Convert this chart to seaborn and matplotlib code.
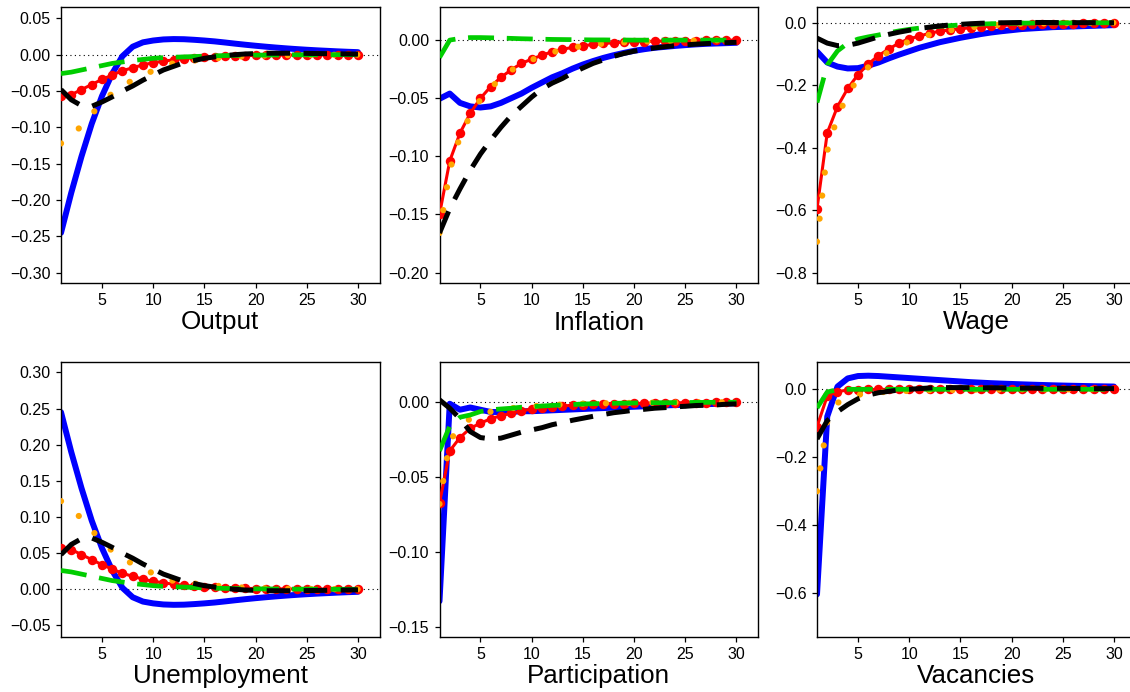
import matplotlib
matplotlib.use("Agg")
import matplotlib.pyplot as plt
import seaborn as sns
import numpy as np
from matplotlib.ticker import FuncFormatter

steps = list(range(1, 31))

# ---- Output
output_blue = [-0.245, -0.190, -0.140, -0.095, -0.057, -0.026, -0.002, 0.011, 0.017, 0.0195,
               0.021, 0.0215, 0.0213, 0.0205, 0.0195, 0.0183, 0.0168, 0.0152, 0.0137, 0.0123,
               0.011, 0.0098, 0.0087, 0.0077, 0.0068, 0.006, 0.0053, 0.0046, 0.004, 0.0035]
output_red = [-0.057, -0.055, -0.048, -0.041, -0.034, -0.028, -0.022, -0.018, -0.014, -0.011,
              -0.009, -0.007, -0.0055, -0.0043, -0.0034, -0.0027, -0.0021, -0.0017, -0.0013, -0.001,
              -0.0008, -0.0006, -0.0005, -0.0004, -0.0003, -0.0002, -0.0002, -0.0001, -0.0001, 0.0]
output_orange = [-0.122, -0.111, -0.098, -0.082, -0.066, -0.053, -0.043, -0.035, -0.028, -0.022,
                 -0.016, -0.0115, -0.0095, -0.008, -0.0065, -0.005, -0.004, -0.003, -0.0022, -0.0016,
                 -0.0012, -0.0009, -0.0007, -0.0005, -0.0004, -0.0003, -0.0002, -0.0001, -0.0001, 0.0]
output_black = [-0.048, -0.062, -0.070, -0.071, -0.065, -0.058, -0.050, -0.043, -0.035, -0.028,
                -0.021, -0.016, -0.011, -0.008, -0.005, -0.003, -0.0012, 0.0, 0.001, 0.0015,
                0.002, 0.002, 0.002, 0.002, 0.0018, 0.0016, 0.0014, 0.0012, 0.001, 0.0008]
output_green = [-0.026, -0.024, -0.021, -0.018, -0.015, -0.012, -0.010, -0.008, -0.0065, -0.005,
                -0.004, -0.0035, -0.003, -0.0025, -0.002, -0.0015, -0.0012, -0.001, -0.0008, -0.0006,
                -0.0005, -0.0004, -0.0003, -0.0002, -0.0002, -0.0001, -0.0001, 0.0, 0.0, 0.0]

# ---- Inflation
infl_blue = [-0.0505, -0.046, -0.054, -0.057, -0.058, -0.057, -0.054, -0.050, -0.046, -0.041,
             -0.0365, -0.032, -0.0285, -0.0245, -0.021, -0.018, -0.0153, -0.013, -0.011, -0.0092,
             -0.0078, -0.0066, -0.0058, -0.005, -0.0043, -0.0037, -0.0032, -0.0029, -0.0026, -0.0023]
infl_red = [-0.150, -0.104, -0.080, -0.063, -0.050, -0.040, -0.032, -0.0256, -0.020, -0.0164,
            -0.013, -0.010, -0.0078, -0.0063, -0.0049, -0.0037, -0.0029, -0.0023, -0.0017, -0.0014,
            -0.0012, -0.001, -0.0008, -0.0006, -0.0005, -0.0004, -0.0003, -0.0002, -0.0001, 0.0]
infl_orange = [-0.166, -0.112, -0.083, -0.065, -0.051, -0.041, -0.033, -0.026, -0.021, -0.017,
               -0.0135, -0.0105, -0.0083, -0.0065, -0.005, -0.004, -0.003, -0.0025, -0.002, -0.0015,
               -0.0012, -0.001, -0.0008, -0.0006, -0.0005, -0.0004, -0.0003, -0.0002, -0.0001, 0.0]
infl_black = [-0.166, -0.145, -0.128, -0.112, -0.098, -0.086, -0.075, -0.065, -0.057, -0.049,
              -0.042, -0.037, -0.033, -0.028, -0.024, -0.020, -0.017, -0.014, -0.0115, -0.0095,
              -0.008, -0.0067, -0.0057, -0.0048, -0.0041, -0.0035, -0.003, -0.0026, -0.0022, -0.0019]
infl_green = [-0.015, 0.0, 0.0015, 0.0022, 0.0022, 0.002, 0.0018, 0.0015, 0.0012, 0.001,
              0.0008, 0.0006, 0.0005, 0.0004, 0.0003, 0.0002, 0.0002, 0.0001, 0.0001, 0.0,
              0.0, 0.0, 0.0, 0.0, 0.0, 0.0, 0.0, 0.0, 0.0, 0.0]

# ---- Wage
wage_blue = [-0.092, -0.127, -0.140, -0.146, -0.145, -0.137, -0.127, -0.114, -0.102, -0.091,
             -0.080, -0.071, -0.062, -0.055, -0.048, -0.042, -0.036, -0.031, -0.027, -0.0236,
             -0.020, -0.018, -0.016, -0.014, -0.0129, -0.0118, -0.0107, -0.0097, -0.0086, -0.0075]
wage_red = [-0.595, -0.352, -0.268, -0.210, -0.166, -0.132, -0.105, -0.084, -0.065, -0.051,
            -0.043, -0.033, -0.027, -0.0225, -0.019, -0.016, -0.013, -0.011, -0.0086, -0.0075,
            -0.006, -0.005, -0.004, -0.0035, -0.003, -0.0025, -0.002, -0.0015, -0.001, -0.0005]
wage_orange = [-0.70, -0.41, -0.30, -0.23, -0.178, -0.142, -0.115, -0.092, -0.073, -0.060,
               -0.048, -0.038, -0.030, -0.024, -0.019, -0.015, -0.011, -0.008, -0.006, -0.004,
               -0.003, -0.0025, -0.002, -0.0015, -0.001, -0.0008, -0.0006, -0.0004, -0.0002, 0.0]
wage_black = [-0.049, -0.065, -0.073, -0.072, -0.065, -0.055, -0.045, -0.037, -0.030, -0.024,
              -0.018, -0.014, -0.010, -0.007, -0.005, -0.003, -0.0015, -0.0005, 0.0, 0.0005,
              0.001, 0.001, 0.001, 0.0008, 0.0006, 0.0005, 0.0004, 0.0003, 0.0002, 0.0001]
wage_green = [-0.255, -0.135, -0.090, -0.065, -0.052, -0.045, -0.039, -0.032, -0.026, -0.021,
              -0.017, -0.014, -0.011, -0.009, -0.007, -0.005, -0.004, -0.003, -0.002, -0.0015,
              -0.001, -0.0008, -0.0006, -0.0004, -0.0003, -0.0002, -0.0001, 0.0, 0.0, 0.0]

# ---- Unemployment
unemp_blue = [0.245, 0.190, 0.140, 0.095, 0.057, 0.026, 0.002, -0.011, -0.017, -0.0195,
              -0.021, -0.0215, -0.0213, -0.0205, -0.0195, -0.0183, -0.0168, -0.0152, -0.0137, -0.0123,
              -0.011, -0.0098, -0.0087, -0.0077, -0.0068, -0.006, -0.0053, -0.0046, -0.004, -0.0035]
unemp_red = [0.057, 0.055, 0.048, 0.041, 0.034, 0.028, 0.022, 0.018, 0.014, 0.011,
             0.009, 0.007, 0.0055, 0.0043, 0.0034, 0.0027, 0.0021, 0.0017, 0.0013, 0.001,
             0.0008, 0.0006, 0.0005, 0.0004, 0.0003, 0.0002, 0.0002, 0.0001, 0.0001, 0.0]
unemp_orange = [0.122, 0.111, 0.098, 0.082, 0.066, 0.053, 0.043, 0.035, 0.028, 0.022,
                0.016, 0.0115, 0.0095, 0.008, 0.0065, 0.005, 0.004, 0.003, 0.0022, 0.0016,
                0.0012, 0.0009, 0.0007, 0.0005, 0.0004, 0.0003, 0.0002, 0.0001, 0.0001, 0.0]
unemp_black = [0.048, 0.062, 0.070, 0.071, 0.065, 0.058, 0.050, 0.043, 0.035, 0.028,
               0.021, 0.016, 0.011, 0.008, 0.005, 0.003, 0.0012, 0.0, -0.001, -0.0015,
               -0.002, -0.002, -0.002, -0.002, -0.0018, -0.0016, -0.0014, -0.0012, -0.001, -0.0008]
unemp_green = [0.026, 0.024, 0.021, 0.018, 0.015, 0.012, 0.010, 0.008, 0.0065, 0.005,
               0.004, 0.0035, 0.003, 0.0025, 0.002, 0.0015, 0.0012, 0.001, 0.0008, 0.0006,
               0.0005, 0.0004, 0.0003, 0.0002, 0.0002, 0.0001, 0.0001, 0.0, 0.0, 0.0]

# ---- Participation
part_blue = [-0.133, -0.001, -0.005, -0.0035, -0.005, -0.0065, -0.0065, -0.0065, -0.006, -0.006,
             -0.0057, -0.0054, -0.0051, -0.0048, -0.0045, -0.0042, -0.0039, -0.0036, -0.0033, -0.003,
             -0.0027, -0.0024, -0.0021, -0.0019, -0.0017, -0.0015, -0.0013, -0.0011, -0.0009, -0.0007]
part_red = [-0.0675, -0.0325, -0.0236, -0.0174, -0.014, -0.011, -0.009, -0.0074, -0.0058, -0.0045,
            -0.0036, -0.0029, -0.0025, -0.002, -0.0016, -0.0014, -0.0012, -0.001, -0.0009, -0.0008,
            -0.0007, -0.0006, -0.0005, -0.0004, -0.0003, -0.0003, -0.0002, -0.0001, -0.0001, 0.0]
part_orange = [-0.068, -0.026, -0.016, -0.011, -0.008, -0.0063, -0.005, -0.004, -0.0033, -0.0027,
               -0.0022, -0.0018, -0.0015, -0.0012, -0.001, -0.0008, -0.0007, -0.0006, -0.0005, -0.0004,
               -0.0003, -0.0003, -0.0002, -0.0002, -0.0001, -0.0001, -0.0001, 0.0, 0.0, 0.0]
part_black = [0.0016, -0.004, -0.011, -0.0196, -0.0236, -0.0245, -0.024, -0.022, -0.020, -0.0185,
              -0.017, -0.015, -0.0136, -0.012, -0.0107, -0.0094, -0.0082, -0.007, -0.0062, -0.0053,
              -0.0047, -0.004, -0.0036, -0.0031, -0.0027, -0.0022, -0.002, -0.0018, -0.0013, -0.0011]
part_green = [-0.0325, -0.016, -0.010, -0.0085, -0.0062, -0.005, -0.0045, -0.004, -0.0033, -0.003,
              -0.0025, -0.0021, -0.0018, -0.0015, -0.0012, -0.001, -0.0008, -0.0007, -0.0006, -0.0005,
              -0.0004, -0.0003, -0.0003, -0.0002, -0.0002, -0.0001, -0.0001, 0.0, 0.0, 0.0]

# ---- Vacancies
vac_blue = [-0.603, -0.08, 0.008, 0.032, 0.039, 0.040, 0.039, 0.037, 0.035, 0.033,
            0.031, 0.029, 0.027, 0.025, 0.023, 0.021, 0.0195, 0.018, 0.0168, 0.0157,
            0.0146, 0.0136, 0.0127, 0.0118, 0.011, 0.0103, 0.0097, 0.0091, 0.0086, 0.0081]
vac_red = [-0.11, -0.02, -0.007, -0.002, -0.001, -0.0005, -0.0003, -0.0002, -0.0001, 0.0,
           0.0, 0.0, 0.0, 0.0, 0.0, 0.0, 0.0, 0.0, 0.0, 0.0,
           0.0, 0.0, 0.0, 0.0, 0.0, 0.0, 0.0, 0.0, 0.0, 0.0]
vac_orange = [-0.30, -0.095, -0.040, -0.025, -0.016, -0.012, -0.009, -0.007, -0.0055, -0.0045,
              -0.0035, -0.003, -0.0025, -0.002, -0.0016, -0.0013, -0.001, -0.0008, -0.0006, -0.0005,
              -0.0004, -0.0003, -0.0002, -0.0002, -0.0001, -0.0001, 0.0, 0.0, 0.0, 0.0]
vac_black = [-0.146, -0.092, -0.066, -0.045, -0.028, -0.017, -0.010, -0.006, -0.002, 0.0,
             0.002, 0.004, 0.005, 0.005, 0.005, 0.005, 0.0045, 0.0045, 0.004, 0.004,
             0.0035, 0.0035, 0.003, 0.003, 0.003, 0.0025, 0.0025, 0.002, 0.002, 0.002]
vac_green = [-0.055, -0.008, -0.001, 0.0, 0.0, 0.0, 0.0, 0.0, 0.0, 0.0,
             0.0, 0.0, 0.0, 0.0, 0.0, 0.0, 0.0, 0.0, 0.0, 0.0,
             0.0, 0.0, 0.0, 0.0, 0.0, 0.0, 0.0, 0.0, 0.0, 0.0]

titles = ["Output", "Inflation", "Wage", "Unemployment", "Participation", "Vacancies"]
series = [
    (output_blue, output_red, output_orange, output_green, output_black),
    (infl_blue, infl_red, infl_orange, infl_green, infl_black),
    (wage_blue, wage_red, wage_orange, wage_green, wage_black),
    (unemp_blue, unemp_red, unemp_orange, unemp_green, unemp_black),
    (part_blue, part_red, part_orange, part_green, part_black),
    (vac_blue, vac_red, vac_orange, vac_green, vac_black),
]
ylims = [(-0.314, 0.0656), (-0.209, 0.0285), (-0.832, 0.0505),
         (-0.0656, 0.314), (-0.1567, 0.0267), (-0.7276, 0.0794)]
yticks = [np.arange(-0.30, 0.051, 0.05), np.arange(-0.20, 0.001, 0.05), np.arange(-0.8, 0.01, 0.2),
          np.arange(-0.05, 0.301, 0.05), np.arange(-0.15, 0.001, 0.05), np.arange(-0.6, 0.01, 0.2)]
ydigits = [2, 2, 1, 2, 2, 1]

sns.set_style("ticks")
plt.rcParams["font.family"] = ["Liberation Sans", "DejaVu Sans"]
plt.rcParams["text.color"] = "black"
plt.rcParams["axes.labelcolor"] = "black"
plt.rcParams["xtick.color"] = "black"
plt.rcParams["ytick.color"] = "black"

fig = plt.figure(figsize=(11.3, 6.92), dpi=100)
W, H = 1130, 692
lefts = [61, 439.5, 817]
tops = [7, 362.3]
heights = [276, 274.4]
pw = 318.5


def fmt(d):
    def f(v, pos):
        s = f"{v:.{d}f}"
        if float(s) == 0:
            s = f"{0:.{d}f}"
        return s.replace("-", "\u2212")
    return f


for i in range(6):
    r, c = divmod(i, 3)
    ax = fig.add_axes([lefts[c] / W, 1 - (tops[r] + heights[r]) / H, pw / W, heights[r] / H])
    blue, red, orange, green, black = series[i]
    ax.axhline(0, color="black", lw=0.8, ls=(0, (1, 3)), zorder=1)
    sns.lineplot(x=steps, y=blue, ax=ax, color="#0000ff", lw=4.3, zorder=2)
    sns.lineplot(x=steps, y=red, ax=ax, color="#ff0000", lw=2.2, marker="o",
                 markersize=6.8, markeredgewidth=0, zorder=3)
    sns.lineplot(x=steps, y=orange, ax=ax, color="#ffa500", lw=4.5,
                 linestyle=(0, (0.01, 3.7)), dash_capstyle="round", zorder=4)
    sns.lineplot(x=steps, y=green, ax=ax, color="#00cd00", lw=3.4,
                 linestyle=(0, (5.5, 2.7)), zorder=5)
    sns.lineplot(x=steps, y=black, ax=ax, color="black", lw=3.6,
                 linestyle=(0, (4.7, 2.7)), zorder=6)
    ax.set_xlim(1, 32.1)
    ax.set_ylim(*ylims[i])
    ax.set_xticks([5, 10, 15, 20, 25, 30])
    ax.set_yticks(yticks[i])
    ax.yaxis.set_major_formatter(FuncFormatter(fmt(ydigits[i])))
    ax.tick_params(axis="both", length=3.5, width=0.9, pad=4, labelsize=11.5,
                   color="black", labelcolor="black")
    for sp in ax.spines.values():
        sp.set_visible(True)
        sp.set_color("black")
        sp.set_linewidth(1.0)
    ax.set_xlabel(titles[i], fontsize=18.7, labelpad=1.5, color="black")
    ax.set_ylabel("")

fig.savefig("out.png", dpi=100)
